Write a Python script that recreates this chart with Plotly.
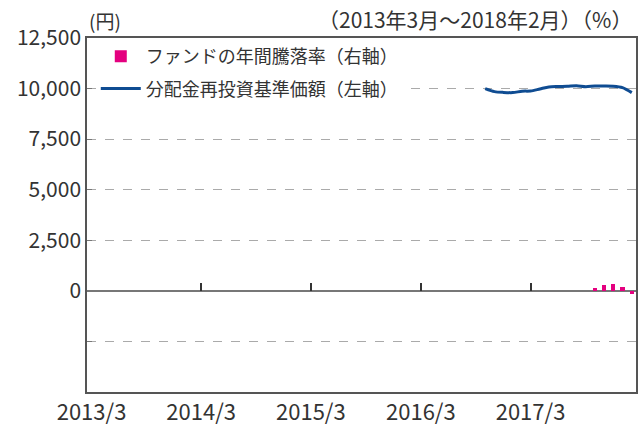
import plotly.graph_objects as go

# ---- data ----
nav_dates = ["2016-10-01", "2016-11-01", "2016-12-01", "2017-01-01", "2017-02-01",
             "2017-03-01", "2017-04-01", "2017-05-01", "2017-06-01", "2017-07-01",
             "2017-08-01", "2017-09-01", "2017-10-01", "2017-11-01", "2017-12-01",
             "2018-01-01", "2018-02-01"]
nav_values = [10000, 9850, 9810, 9800, 9870, 9880, 9980, 10080, 10100, 10110,
              10140, 10090, 10130, 10130, 10120, 10050, 9800]

ret_dates = ["2017-10-01", "2017-11-01", "2017-12-01", "2018-01-01", "2018-02-01"]
ret_values = [1.5, 3.0, 3.5, 2.0, -1.5]

x_tick_vals = ["2013-03-01", "2014-03-01", "2015-03-01", "2016-03-01", "2017-03-01"]
x_tick_text = ["2013/3", "2014/3", "2015/3", "2016/3", "2017/3"]
zero_tick_vals = ["2014-03-01", "2015-03-01", "2016-03-01", "2017-03-01"]

y_tick_vals = [12500, 10000, 7500, 5000, 2500, 0, -2500]
y_tick_text = ["12,500", "10,000", "7,500", "5,000", "2,500", "0", ""]

name_bar = "ファンドの年間騰落率（右軸）"
name_line = "分配金再投資基準価額（左軸）"

FONT = "Noto Sans CJK JP"
TXT = "#333333"
x_range = ["2013-02-14", "2018-02-15"]

fig = go.Figure()
fig.add_trace(go.Bar(
    x=ret_dates, y=ret_values, name=name_bar, yaxis="y2",
    marker=dict(color="#e4007f", line=dict(width=0)),
    width=14 * 24 * 3600 * 1000, legendgroup="a",
))
fig.add_trace(go.Scatter(
    x=nav_dates, y=nav_values, name=name_line, mode="lines",
    line=dict(color="#0f4c92", width=3, shape="spline", smoothing=0.8),
    legendgroup="b",
))

fig.update_layout(
    width=638, height=427,
    margin=dict(l=87, r=2, t=38, b=35, autoexpand=False),
    paper_bgcolor="white", plot_bgcolor="white",
    font=dict(family=FONT, color=TXT, size=18),
    showlegend=True,
    legend=dict(
        x=0.016, y=1.0, xanchor="left", yanchor="top",
        bgcolor="white", borderwidth=0,
        font=dict(size=18, color=TXT, family=FONT),
        traceorder="grouped", tracegroupgap=6,
        itemwidth=40,
    ),
    bargap=0,
    xaxis=dict(
        type="date", range=x_range,
        tickvals=x_tick_vals, ticktext=x_tick_text,
        ticks="", showgrid=False, zeroline=False,
        showline=True, mirror=True, linecolor="#555555", linewidth=1.5,
        tickfont=dict(size=22, color=TXT, family=FONT),
    ),
    xaxis2=dict(
        type="date", range=x_range, overlaying="x", anchor="free",
        position=5000 / 17500,
        tickvals=zero_tick_vals, ticks="inside", ticklen=8, tickwidth=1.5,
        tickcolor="#333333", showticklabels=False, showgrid=False,
        showline=False, zeroline=False,
    ),
    yaxis=dict(
        range=[-5000, 12500], tickvals=y_tick_vals, ticktext=y_tick_text,
        ticks="inside", ticklen=5, tickcolor="#777777", tickwidth=1,
        showgrid=True, gridcolor="#aaaaaa", griddash="dash", gridwidth=1,
        zeroline=True, zerolinecolor="#777777", zerolinewidth=2,
        showline=True, mirror=True, linecolor="#555555", linewidth=1.5,
        tickfont=dict(size=21, color=TXT, family=FONT),
    ),
    yaxis2=dict(
        range=[-50, 125], overlaying="y", side="right",
        showticklabels=False, showgrid=False, zeroline=False, ticks="",
        showline=False,
    ),
    annotations=[
        dict(text="(円)", xref="paper", yref="paper", x=0.0, y=1.0,
             xanchor="left", yanchor="bottom", yshift=2, showarrow=False,
             font=dict(size=19, color=TXT, family=FONT)),
        dict(text="（2013年3月～2018年2月）（%）", xref="paper", yref="paper",
             x=1.0, y=1.0, xanchor="right", yanchor="bottom", yshift=2,
             xshift=-2, showarrow=False,
             font=dict(size=21, color=TXT, family=FONT)),
    ],
)

# invisible trace to make sure the overlay axis is rendered
fig.add_trace(go.Scatter(x=[x_range[0]], y=[0], xaxis="x2", mode="markers",
                         marker=dict(opacity=0), showlegend=False, hoverinfo="skip"))

fig.write_html("out.html", config={"displayModeBar": False},
               post_script="document.body.style.margin='0px';")
